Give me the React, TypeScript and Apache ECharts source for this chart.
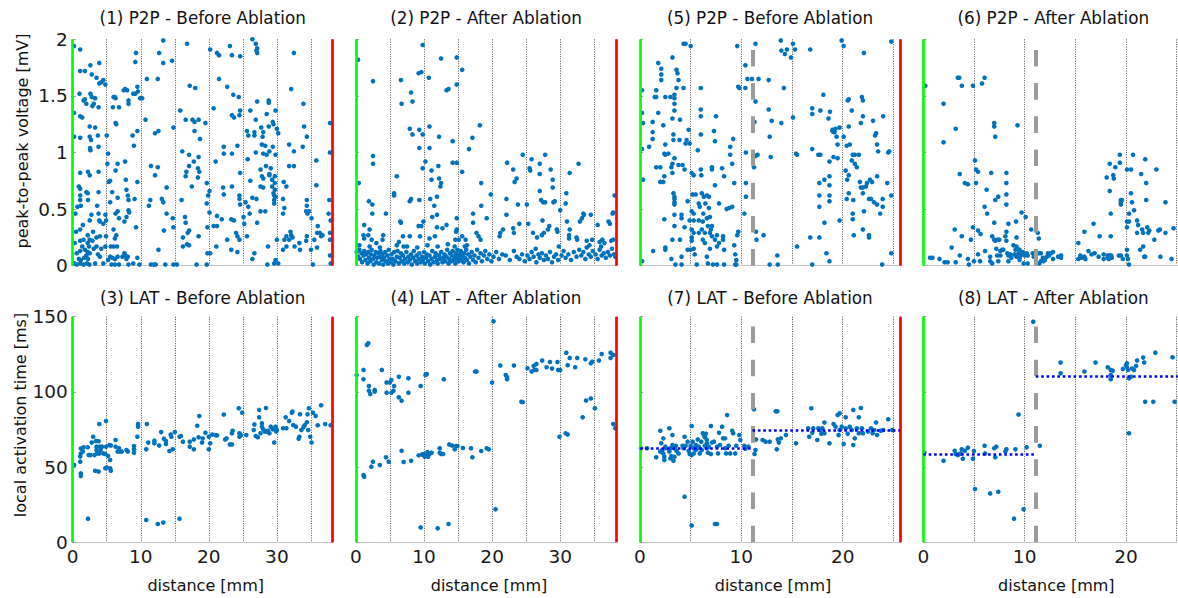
import React, { useEffect, useRef } from 'react';
import * as echarts from 'echarts';

// ---------- data (distance [mm], value) ----------
const p2pBefore1: number[][] = [
[0.2,1.94],[1.1,1.91],[1.1,1.72],[1.8,1.72],[2.6,1.77],[2.8,1.69],[3.5,1.66],[3.9,1.79],[3.9,1.61],[4.2,1.62],[4.5,1.64],[4.8,1.6],[1.0,1.52],[1.8,1.47],[1.6,1.46],[2.0,1.43],[2.6,1.52],[2.8,1.49],[3.3,1.48],[2.9,1.41],[3.1,1.43],[3.8,1.40],[1.1,1.32],[1.4,1.31],[2.5,1.23],[3.3,1.22],[2.5,1.14],[1.1,1.13],[2.7,1.11],[2.55,1.04],[2.6,1.02],[0.2,1.35],[3.7,1.15],[3.8,1.05],
[1.1,0.82],[2.25,0.83],[2.5,0.80],[3.8,0.83],[0.9,0.70],[1.1,0.68],[2.2,0.64],[2.0,0.65],[1.1,0.62],[1.1,0.58],[2.25,0.58],[3.8,0.65],[3.6,0.53],[1.2,0.53],[2.75,0.45],[2.5,0.40],[3.8,0.46],[4.0,0.39],[3.9,0.40],[4.8,0.45],[4.9,0.40],[1.1,0.32],[4.5,0.37],[1.6,0.23],[1.1,0.22],[2.2,0.27],[2.5,0.23],[2.9,0.22],[3.5,0.25],[4.0,0.26],[2.2,0.20],[2.4,0.17],[3.1,0.15],[3.5,0.17],[4.2,0.15],[1.8,0.14],[0.6,0.11],[1.1,0.13],[2.2,0.12],[2.5,0.11],[0.9,0.06],[1.2,0.05],[1.7,0.07],[2.25,0.06],[0.3,0.02],[0.6,0.01],[1.1,0.02],[1.6,0.01],[2.1,0.02],[2.45,0.01],[3.3,0.02],[4.0,0.08],[4.5,0.02],[4.8,0.17],[4.9,0.26],[0.2,1.14],[0.7,0.52],[0.5,0.30],[1.5,0.36],[3.0,0.30],[2.0,0.09],[3.7,0.10],[1.4,0.17],[0.4,0.46],[0.3,0.20],
[5.0,1.15],[5.2,0.99],[5.1,0.90],[5.3,0.74],[5.5,0.75],[6.0,1.49],[6.2,1.49],[6.3,1.48],[5.9,1.40],[6.8,1.40],[6.4,1.25],[6.3,1.26],[6.6,0.90],[6.3,0.84],[5.8,0.65],[6.6,0.60],[5.5,0.56],[6.6,0.48],[6.3,0.46],[6.8,0.42],[6.0,0.32],[6.4,0.27],[6.2,0.24],[5.6,0.17],[6.0,0.17],[6.5,0.17],[5.5,0.08],[5.8,0.07],[6.2,0.06],[6.6,0.08],[5.2,0.05],[5.7,0.01],[6.2,0.01],[6.8,0.01],[7.5,1.55],[8.0,1.55],[8.2,1.46],[8.2,1.43],[7.7,1.56],[7.7,0.92],[7.8,0.76],[7.9,0.67],[8.1,0.62],[8.2,0.58],[8.2,0.49],[8.3,0.47],[7.9,0.43],[7.6,0.39],[7.3,0.08],[7.7,0.09],[7.9,0.06],[8.1,0.08],[7.6,0.11],[8.2,0.01],[8.9,0.02],[9.3,1.88],[9.2,1.80],[9.5,1.58],[9.6,1.54],[8.9,1.52],[9.2,1.52],[9.9,1.48],[10.2,1.48],[8.8,1.15],[9.5,1.19],[9.0,1.06],[9.5,0.74],[9.1,0.59],[9.3,0.34],[9.5,0.07],[9.8,0.01],
[10.9,1.65],[12.5,1.65],[12.7,1.88],[13.3,1.99],[13.3,1.79],[14.6,1.81],[10.7,1.29],[12.6,1.19],[12.1,1.17],[14.8,1.22],[11.5,0.88],[12.5,0.87],[12.1,0.80],[13.8,0.69],[13.1,0.59],[11.4,0.58],[13.3,0.56],[11.2,0.53],[13.8,0.46],[14.7,0.42],[13.4,0.31],[14.8,0.34],[12.6,0.14],[11.5,0.01],[11.9,0.01],[12.2,0.01],[13.6,0.01],[14.8,0.01],
[16.8,1.96],[15.8,1.37],[17.2,1.59],[18.0,1.57],[16.6,1.29],[17.6,1.29],[17.9,1.27],[18.5,1.29],[17.9,1.19],[18.7,1.12],[16.1,1.01],[17.1,0.98],[18.5,0.96],[17.8,0.92],[17.1,0.88],[18.4,0.86],[16.7,0.83],[18.6,0.83],[16.6,0.79],[18.4,0.78],[17.5,0.70],[16.0,0.58],[19.7,0.73],[19.9,0.62],[19.7,0.55],[16.5,0.43],[16.6,0.38],[17.1,0.31],[16.9,0.29],[16.2,0.25],[16.8,0.19],[17.1,0.18],[16.2,0.17],[18.5,0.26],[19.8,0.34],[19.8,0.11],[18.2,0.01],[19.7,0.01],[19.5,1.26],[15.3,0.01],
[20.2,1.91],[21.2,1.88],[21.5,1.86],[23.1,1.94],[23.4,1.86],[24.6,1.85],[21.5,1.65],[22.7,1.58],[23.6,1.51],[24.4,1.49],[20.7,1.39],[24.6,1.37],[23.4,1.33],[23.7,1.31],[24.5,1.33],[24.2,1.06],[22.2,1.05],[22.2,0.99],[21.0,0.92],[23.4,0.99],[24.6,0.82],[23.4,0.70],[22.1,0.69],[22.2,0.63],[24.5,0.62],[24.5,0.59],[24.6,0.54],[21.2,0.44],[21.9,0.41],[23.3,0.41],[21.2,0.35],[23.7,0.40],[24.0,0.29],[24.2,0.26],[24.5,0.23],[22.7,0.23],[21.1,0.17],[23.3,0.14],[24.2,0.12],[20.2,0.11],[20.7,0.35],[20.1,0.66],[20.1,0.47],
[26.4,2.0],[26.9,1.96],[27.1,1.92],[27.1,1.88],[27.0,1.90],[26.1,1.37],[27.1,1.45],[26.9,1.29],[25.6,1.19],[25.8,1.15],[26.7,1.18],[26.7,1.15],[28.0,1.18],[28.8,1.23],[29.4,1.27],[29.5,1.25],[29.8,1.37],[28.8,1.46],[28.8,1.44],[28.5,1.34],[27.7,1.22],[27.9,1.14],[27.8,1.07],[28.3,1.06],[28.0,0.99],[28.9,1.01],[28.5,0.98],[25.7,0.94],[26.9,1.00],[29.4,1.05],[29.8,0.98],[27.6,0.85],[27.8,0.79],[28.0,0.77],[28.4,0.88],[29.1,0.86],[28.9,0.80],[29.3,0.76],[29.7,0.79],[29.7,0.73],[29.3,0.70],[26.1,0.75],[27.6,0.70],[28.0,0.69],[29.7,0.67],[29.6,0.62],[29.8,0.61],[29.6,0.58],[29.6,0.55],[29.5,0.64],[26.4,0.60],[27.0,0.59],[25.8,0.52],[26.0,0.46],[27.6,0.48],[28.3,0.48],[27.1,0.38],[25.2,0.37],[25.6,0.26],[28.7,0.17],[26.7,0.11],[26.4,0.06],[28.6,0.01],[29.6,0.02],[29.8,0.05],[25.4,0.56],[25.1,0.43],[28.9,0.81],
[32.5,1.88],[32.1,1.56],[33.9,1.43],[34.0,1.23],[34.4,1.14],[30.0,1.21],[30.2,1.17],[31.8,1.07],[32.5,1.01],[33.8,1.05],[31.8,0.88],[32.5,0.88],[31.0,0.74],[31.4,0.70],[30.9,0.59],[31.1,0.51],[30.9,0.46],[31.4,0.17],[30.9,0.14],[31.8,0.23],[32.3,0.25],[32.0,0.30],[31.1,0.23],[31.4,0.26],[32.1,0.27],[34.4,0.58],[34.4,0.53],[34.3,0.48],[34.5,0.46],[34.7,0.48],[34.4,0.26],[34.3,0.22],[33.3,0.20],[33.4,0.14],[32.6,0.17],[30.2,0.02],[30.0,0.23],
[35.8,0.93],[35.8,0.71],[35.1,0.42],[36.0,0.35],[36.3,0.29],[35.9,0.29],[35.5,0.23],[36.5,0.26],[35.9,0.16],[35.0,0.14],[35.3,0.01],[36.7,0.27],[37.8,1.26],[37.8,1.00],[37.9,0.40],[37.8,0.29],[37.8,0.23],[37.8,0.09],[37.9,0.02],[37.7,0.58],[37.6,0.46]
];

const p2pAfter2: number[][] = [
[0.3,1.82],[0.4,0.73],[2.5,1.63],[2.5,0.97],[2.5,0.90],[1.9,0.57],[2.4,0.54],[2.4,0.46],[1.2,0.36],[2.0,0.32],[1.1,0.27],[1.2,0.24],[1.8,0.27],[2.3,0.23],[3.0,0.20],[3.9,0.23],[4.0,0.27],[4.4,0.46],
[6.0,0.79],[5.6,0.64],[5.6,0.62],[6.6,1.64],[6.7,1.43],[6.6,0.38],[6.5,0.39],[6.9,0.26],[6.3,0.21],[7.0,0.17],[7.9,0.26],[7.9,0.57],[8.1,0.59],[8.1,1.53],[8.3,1.45],[7.9,1.21],[8.3,1.16],[9.3,1.20],[9.3,1.04],[9.3,0.58],[9.2,0.35],[9.6,0.35],[9.4,0.26],[9.2,1.70],[9.6,1.71],[9.8,1.95],[9.8,1.16],[9.8,0.86],[9.9,0.39],
[10.2,0.92],[10.7,1.66],[10.8,1.23],[10.8,1.04],[11.1,0.84],[11.1,0.76],[11.2,0.43],[10.9,0.59],[10.8,0.24],[11.5,0.53],[11.9,0.61],[11.9,0.45],[12.1,0.88],[12.2,0.77],[12.5,0.73],[12.4,0.70],[12.2,1.14],[12.5,1.83],[13.3,1.55],[13.6,1.56],[11.9,0.34],[11.6,0.26],[12.7,0.33],[13.3,0.36],[14.2,1.10],[14.8,0.91],[14.8,1.84],[14.8,1.60],[14.2,0.91],[14.8,0.42],[14.8,0.32],[14.6,0.23],[14.7,0.30],[15.1,0.23],
[15.6,1.73],[15.6,0.83],[16.6,1.03],[17.1,1.13],[17.2,0.46],[17.2,0.38],[18.2,1.24],[18.4,0.73],[18.4,0.53],[19.2,0.42],[19.8,0.63],[15.6,0.26],[16.1,0.23],[16.3,0.18],[17.7,0.29],[18.0,0.26],[18.3,0.23],
[21.1,0.26],[21.2,0.29],[21.6,0.32],[22.1,0.59],[22.2,0.91],[22.1,0.45],[23.1,0.85],[23.1,0.33],[23.2,0.29],[23.3,0.74],[23.6,0.77],[24.5,0.98],[24.0,0.37],[23.8,0.54],
[25.1,0.54],[25.3,0.37],[25.5,0.86],[25.6,0.84],[25.8,0.94],[26.0,0.29],[26.4,0.15],[26.6,0.25],[27.0,0.90],[27.0,0.81],[27.0,0.66],[27.2,0.58],[27.3,0.27],[27.4,0.40],[27.5,0.56],[27.6,0.29],[27.8,0.98],[27.8,0.56],[28.2,0.32],[28.4,0.35],[28.6,0.85],[28.9,0.76],[28.9,0.69],[29.2,0.57],[29.0,0.56],[29.5,0.32],[29.6,0.30],[29.8,0.17],[30.0,0.49],
[30.9,0.64],[30.8,0.55],[31.0,0.39],[31.4,0.82],[31.4,0.32],[31.3,0.27],[31.3,0.24],[32.4,0.25],[32.5,0.23],[32.7,0.90],[32.9,0.39],[33.2,0.42],[33.4,0.46],[33.5,0.45],[33.9,0.22],[34.3,0.18],[34.5,0.45],[34.7,0.23],
[35.5,0.36],[35.8,0.21],[36.0,0.17],[36.2,0.23],[36.5,0.20],[37.1,0.39],[37.3,0.37],[37.5,0.22],[37.8,0.23],[37.7,0.46],[37.8,0.47],[38.0,0.62],[38.1,0.08],
[0.1,0.12],[0.3,0.08],[0.5,0.14],[0.6,0.06],[0.8,0.11],[0.9,0.03],[1.1,0.09],[1.2,0.13],[1.4,0.05],[1.5,0.10],[1.7,0.02],[1.8,0.12],[1.9,0.07],[2.1,0.04],[2.2,0.10],[2.3,0.14],[2.5,0.06],[2.6,0.01],[2.7,0.09],[2.9,0.12],[3.0,0.03],[3.1,0.07],[3.3,0.11],[3.4,0.02],[3.5,0.08],[3.6,0.13],[3.8,0.05],[3.9,0.10],[4.0,0.01],[4.1,0.07],[4.3,0.12],[4.4,0.04],[4.6,0.09],[4.7,0.02],[4.8,0.14],[4.9,0.06],
[5.1,0.03],[5.2,0.10],[5.4,0.06],[5.5,0.01],[5.6,0.12],[5.8,0.04],[6.0,0.08],[6.1,0.13],[6.3,0.02],[6.4,0.07],[6.6,0.11],[6.7,0.04],[6.9,0.09],[7.1,0.02],[7.2,0.06],[7.4,0.12],[7.6,0.03],[7.7,0.08],[7.9,0.05],[8.1,0.10],[8.2,0.01],[8.4,0.07],[8.5,0.13],[8.7,0.04],[8.9,0.09],[9.0,0.02],[9.2,0.06],[9.3,0.11],[9.5,0.03],[9.7,0.08],[9.8,0.05],[10.0,0.12],
[10.1,0.02],[10.3,0.07],[10.4,0.10],[10.6,0.04],[10.8,0.09],[10.9,0.01],[11.1,0.06],[11.2,0.13],[11.4,0.03],[11.6,0.08],[11.7,0.11],[11.9,0.05],[12.0,0.02],[12.2,0.09],[12.3,0.06],[12.5,0.12],[12.7,0.03],[12.8,0.07],[13.0,0.10],[13.1,0.04],[13.3,0.08],[13.4,0.14],[13.6,0.02],[13.7,0.06],[13.8,0.11],[14.0,0.04],[14.1,0.09],[14.2,0.13],[14.3,0.05],[14.5,0.08],[14.6,0.02],[14.7,0.11],[14.8,0.06],[14.9,0.14],[15.0,0.09],
[15.1,0.04],[15.2,0.10],[15.3,0.07],[15.4,0.13],[15.5,0.05],[15.6,0.09],[15.8,0.03],[15.9,0.11],[16.0,0.07],[16.2,0.14],[16.3,0.05],[16.5,0.10],[16.6,0.02],[16.8,0.08],[17.0,0.12],[17.2,0.05],[17.4,0.09],[17.6,0.03],[17.8,0.14],[18.0,0.07],[18.3,0.11],[18.5,0.04],[18.8,0.09],[19.0,0.13],[19.3,0.06],[19.6,0.10],[19.9,0.04],
[20.2,0.08],[20.6,0.12],[21.0,0.06],[21.5,0.10],[22.0,0.09],[22.6,0.05],[23.2,0.13],[23.6,0.08],[24.0,0.06],[24.4,0.10],[24.8,0.04],
[25.2,0.09],[25.5,0.06],[25.8,0.12],[26.1,0.08],[26.5,0.03],[26.8,0.10],[27.0,0.07],[27.3,0.11],[27.6,0.05],[27.9,0.09],[28.2,0.06],[28.5,0.12],[28.8,0.03],[29.1,0.08],[29.4,0.10],[29.7,0.05],
[30.2,0.09],[30.5,0.13],[30.8,0.07],[31.2,0.10],[31.6,0.05],[32.0,0.12],[32.4,0.08],[32.8,0.14],[33.1,0.09],[33.4,0.12],[33.7,0.06],[33.9,0.16],[34.2,0.10],[34.5,0.08],[34.8,0.13],
[35.2,0.10],[35.5,0.06],[35.8,0.14],[36.1,0.09],[36.4,0.11],[36.7,0.07],[37.0,0.12],[37.3,0.09],[37.6,0.15],[37.9,0.10],
[0.5,0.18],[2.0,0.17],[3.5,0.16],[6.0,0.18],[7.5,0.17],[9.0,0.16],[10.5,0.18],[12.0,0.17],[13.5,0.19],[14.5,0.17],[16.0,0.17]
];

const p2pBefore5: number[][] = [
[0.2,1.55],[0.2,1.35],[0.3,1.26],[0.2,1.03],[0.3,0.76],[0.2,0.04],[0.9,1.05],[1.25,1.27],[1.25,1.18],[1.25,1.12],[1.3,0.13],[1.45,1.49],[1.6,1.49],[1.6,1.55],[1.8,1.79],[1.8,1.35],[1.6,0.87],[2.0,0.87],[2.0,0.74],[2.1,1.74],[2.1,1.69],[2.1,1.64],[2.3,0.74],[2.3,1.24],[2.5,1.49],[2.4,0.99],[2.5,1.07],[2.5,0.98],[2.4,0.79],[2.4,0.41],[2.5,0.16],[2.5,0.14],[2.8,0.99],[3.0,1.49],[3.2,1.84],[3.2,1.30],[3.4,1.51],[3.3,1.16],[3.3,1.11],[3.4,1.37],[3.4,1.48],[3.4,1.43],[3.1,0.87],[3.2,0.82],[3.2,0.90],[3.4,0.95],[3.3,0.64],[3.4,0.61],[3.4,0.59],[3.4,0.56],[3.4,0.54],[3.4,0.45],[3.4,0.35],[3.2,0.23],[3.1,0.06],[3.5,0.01],[3.6,1.73],[3.7,1.70],[3.8,1.64],[3.6,1.57],[3.8,0.89],[3.9,1.11],[3.95,1.29],[3.95,0.23],[4.1,0.45],[4.1,0.42],[4.1,0.01],[4.2,0.89],[4.3,1.57],[4.1,0.08],[4.4,0.34],[4.4,0.85],[4.5,1.08],[4.6,1.11],[4.7,0.57],[4.8,1.20],[4.9,1.08],[4.7,0.14],[4.9,0.40],[4.3,1.96],[4.5,1.96],[5.0,1.94],
[5.1,0.82],[5.1,0.48],[5.1,0.32],[5.1,0.25],[5.0,0.14],[5.1,0.22],[5.2,0.63],[5.3,0.46],[5.3,0.80],[5.3,0.40],[5.3,0.29],[5.3,0.15],[5.4,0.10],[5.5,0.63],[5.6,0.01],[5.7,1.02],[5.8,0.55],[5.8,0.40],[5.9,0.52],[5.8,0.29],[6.0,1.57],[6.0,1.38],[6.0,1.32],[6.0,1.16],[6.0,0.85],[6.05,0.80],[6.1,0.64],[6.1,0.32],[6.2,0.39],[6.2,0.23],[6.25,0.46],[6.3,0.61],[6.4,0.29],[6.4,0.20],[6.45,0.55],[6.6,0.62],[6.6,0.42],[6.6,0.08],[6.7,0.02],[6.7,0.35],[6.8,0.61],[6.8,0.51],[6.9,0.29],[6.9,0.15],[6.9,0.43],[7.0,0.32],[7.1,0.26],[7.1,0.87],[7.1,0.85],[7.1,0.35],[7.2,0.01],[7.3,1.19],[7.4,1.10],[7.5,1.32],[7.4,0.71],[7.4,0.23],[7.6,0.17],[7.6,0.01],[7.6,0.27],[7.8,0.55],[7.8,0.20],[8.1,0.86],[8.2,0.26],[8.2,0.23],[8.3,0.14],[8.3,0.79],[8.3,0.01],[8.55,0.50],[8.8,0.51],[8.9,1.05],[8.9,0.98],[9.1,0.90],[9.1,0.52],[9.2,1.12],[9.3,0.73],[9.3,0.18],[9.4,0.10],[9.4,0.01],[9.5,0.05],[9.6,1.94],[9.6,0.27],[9.7,0.30],[9.7,1.58],[9.8,1.57],[9.5,0.01],
[10.4,1.77],[10.3,0.46],[10.45,0.73],[10.45,0.61],[10.45,1.00],[10.4,1.57],[10.6,1.65],[11.05,1.65],[11.4,1.96],[11.4,1.45],[11.4,0.97],[11.25,0.87],[11.3,1.27],[11.6,0.98],[11.45,0.30],[11.5,0.23],[11.7,1.65],[12.2,0.27],[12.7,1.38],[12.8,1.14],[12.7,1.64],[12.9,0.96],[13.0,1.28],[12.8,0.01],[13.55,0.09],[13.6,0.01],[13.9,1.99],[13.95,1.26],[13.95,1.90],[14.3,1.87],[14.5,1.91],[14.2,1.57],[14.9,1.84],[15.5,0.17],
[15.1,1.31],[15.1,1.96],[15.3,1.91],[15.4,0.99],[15.5,0.98],[16.8,1.91],[17.0,1.39],[17.0,1.34],[17.0,1.03],[17.0,0.01],[16.8,0.25],[17.6,0.98],[17.7,0.73],[17.7,0.62],[17.7,0.52],[17.7,0.25],[17.8,1.37],[17.8,0.98],[18.1,1.51],[18.2,0.76],[18.2,0.38],[18.4,0.11],[18.6,1.30],[18.7,0.92],[18.7,0.79],[18.7,0.71],[18.75,1.36],[18.7,0.62],[18.7,0.57],[18.7,0.04],[19.0,1.19],[19.0,1.20],[19.1,1.18],[19.1,0.96],[19.2,1.18],[19.3,1.21],[19.4,1.14],[19.5,1.07],[19.5,0.95],[19.7,1.22],[19.7,0.40],[19.9,1.99],
[20.1,1.94],[20.1,1.14],[20.3,0.84],[20.4,1.06],[20.4,0.59],[20.45,0.76],[20.6,1.47],[20.5,1.46],[20.6,0.80],[20.6,0.64],[20.6,1.23],[20.7,1.07],[20.9,1.37],[20.9,0.93],[21.0,0.98],[21.0,0.46],[21.0,0.41],[21.05,0.58],[21.1,0.27],[21.2,0.98],[21.2,0.90],[21.4,0.87],[21.6,0.98],[21.7,0.74],[21.8,0.69],[21.8,1.26],[21.9,1.49],[22.0,1.46],[22.0,1.32],[22.0,0.69],[22.0,0.64],[22.0,0.32],[22.1,1.88],[22.1,0.48],[22.3,0.70],[22.4,0.73],[22.6,0.59],[22.6,0.27],[22.6,0.25],[22.7,0.76],[22.8,0.59],[22.9,0.74],[23.0,1.28],[23.1,0.56],[23.2,1.15],[23.3,1.17],[23.4,1.07],[23.4,0.79],[23.4,0.54],[23.5,1.01],[23.7,0.46],[23.9,0.01],[23.95,0.52],[23.95,0.59],[24.0,1.32],[24.4,0.73],[24.5,1.00],[24.6,1.01],[24.8,0.11],[24.8,0.62],[24.8,1.98]
];

const p2pAfter6: number[][] = [
[0.2,1.59],[0.66,0.07],[0.9,0.07],[1.6,0.06],[2.0,1.43],[2.0,1.09],[2.1,0.03],[2.4,0.03],[2.8,0.16],[3.1,0.32],[3.2,0.03],[3.2,1.21],[3.4,1.66],[3.55,1.66],[3.6,0.81],[3.6,0.09],[3.8,1.59],[3.8,0.26],[4.1,0.73],[4.4,0.72],[4.4,0.06],[4.5,0.01],[4.7,0.23],[4.9,1.59],[4.9,0.34],[5.0,0.04],[5.1,0.93],[5.2,0.73],[5.2,0.85],[5.4,0.83],[5.4,0.31],[5.4,0.10],[5.6,0.04],[5.65,0.28],[5.8,1.61],[6.05,1.66],[6.05,0.52],[6.1,0.13],[6.25,0.67],[6.3,0.46],[6.6,0.08],[6.6,0.04],[6.7,0.82],[6.8,0.26],[6.8,0.02],[7.0,1.26],[7.0,1.23],[7.1,1.14],[7.0,0.23],[7.0,0.38],[7.1,0.58],[7.1,0.22],[7.2,0.15],[7.3,0.09],[7.3,0.23],[7.4,0.61],[7.5,0.23],[7.4,0.04],[7.6,0.13],[7.6,0.09],[7.8,0.14],[7.9,0.14],[8.1,0.26],[8.2,0.82],[8.2,0.73],[8.2,0.63],[8.2,0.54],[8.2,0.30],[8.2,0.22],[8.3,0.11],[8.4,0.09],[8.4,0.37],[8.4,0.04],[8.6,0.10],[8.7,0.07],[8.9,0.18],[9.0,0.10],[9.1,0.14],[9.15,0.39],[9.2,0.25],[9.2,0.17],[9.2,0.08],[9.3,1.24],[9.3,0.15],[9.4,0.11],[9.5,0.07],[9.5,0.14],[9.5,0.05],[9.6,0.09],[9.7,0.47],[9.8,0.12],[9.9,0.02],[10.0,0.09],[10.1,0.43],[10.2,0.11],[10.3,0.09],[10.3,0.02],[10.65,0.32],[10.8,0.11],[10.9,0.08],[11.3,0.29],[11.4,0.11],[11.4,0.24],[11.45,0.02],[11.6,0.11],[11.6,0.04],[11.8,0.07],[11.85,0.04],[12.0,0.05],[12.2,0.08],[12.3,0.11],[12.4,0.09],[12.6,0.11],[12.8,0.06],[12.8,0.12],[13.3,0.08],[13.6,0.09],[13.6,0.07],
[15.3,0.20],[15.3,0.06],[15.5,0.09],[15.6,0.07],[15.9,0.30],[15.9,0.08],[16.0,0.06],[16.3,0.13],[16.6,0.10],[16.8,0.37],[16.9,0.11],[17.3,0.08],[17.4,0.26],[17.8,0.06],[17.8,0.10],[18.1,0.78],[18.2,0.07],[18.2,0.09],[18.3,0.06],[18.4,0.90],[18.4,0.66],[18.4,0.09],[18.5,0.26],[18.5,0.46],[18.55,0.09],[18.6,0.07],[18.75,0.80],[18.8,0.77],[18.95,0.87],[19.3,0.09],[19.4,0.98],[19.4,0.91],[19.5,0.09],[19.5,0.58],[19.5,0.56],[19.5,0.54],[19.6,0.58],[19.7,0.06],
[20.1,0.85],[20.1,0.34],[20.1,0.39],[20.1,0.14],[20.1,0.09],[20.2,0.06],[20.3,0.01],[20.3,0.39],[20.3,0.46],[20.5,0.64],[20.5,0.85],[20.6,0.56],[20.7,0.98],[20.8,0.49],[21.1,0.29],[21.1,0.40],[21.2,0.36],[21.4,0.14],[21.5,0.81],[21.6,0.32],[21.7,0.29],[21.7,0.17],[21.8,0.08],[21.9,0.94],[21.9,0.08],[22.0,0.73],[22.0,0.58],[22.1,0.34],[22.2,0.29],[22.3,0.31],[22.8,0.23],[23.0,0.85],[23.2,0.31],[23.35,0.32],[23.4,0.08],[23.9,0.56],[23.9,0.29],[24.5,0.06],[24.7,0.33]
];

const latBefore3: number[][] = [
[0.2,51.4],[1.2,62.4],[1.2,59],[1.1,57],[1.1,53.6],[1.2,45.8],[1.2,44],[1.5,60.3],[1.6,63.2],[2.2,63.2],[2.25,15.7],[2.35,58],[2.6,58],[2.8,66.3],[3.0,70.2],[3.2,58],[3.3,47.6],[3.4,67.4],[3.5,63.6],[3.5,61.4],[3.6,59.1],[3.8,67.2],[3.8,47],[3.9,78.6],[3.9,59.1],[4.0,63.6],[4.1,61.4],[4.3,63.6],[4.5,59.1],[4.8,58.7],[4.8,49.2],[4.9,80.6],[4.9,63.6],[5.0,49.8],[5.2,57.4],[5.4,64.7],[5.5,54.7],[5.5,49.2],[5.6,47.6],[5.6,64.3],[6.3,68],[6.3,63.6],[6.6,60.3],[6.8,62.5],[6.9,60.3],[7.2,60.3],[7.9,61.4],[8.1,60.3],[9.0,64],[9.0,61.8],[9.0,59.6],[9.5,70.2],[9.6,76.9],[9.6,78.6],
[10.9,78.6],[10.8,14.8],[10.8,61.8],[11.1,66.3],[12.0,67.6],[12.0,65.8],[12.5,12.2],[12.7,64.3],[13.0,73.3],[13.3,13.1],[13.4,68.9],[13.7,67.4],[13.7,65.4],[14.2,60.7],[14.4,71.6],[14.5,70.2],[14.7,61.8],[15.0,73.3],[15.7,15.7],[15.7,70.2],[15.9,70.7],[16.2,66.9],[17.2,66.9],[17.2,63.6],[17.8,61.8],[17.8,68.4],[18.3,77.5],[18.6,84],[18.5,69.8],[19.0,66.3],[19.1,69.1],[19.5,72.8],
[20.0,61.8],[20.0,70.2],[20.2,65.8],[20.5,71.6],[21.0,71.1],[21.2,71.1],[22.2,84.9],[22.4,68.4],[22.6,69.1],[23.1,65.1],[23.4,65.1],[23.5,74.2],[23.4,72.5],[24.4,89.1],[24.5,72.5],[24.5,70.2],[24.7,71.1],[24.9,86.2],[25.5,71.3],[26.6,74.7],[26.7,78.4],[26.9,70.7],[27.2,69.8],[27.4,88],[27.4,83.1],[27.6,72.5],[27.8,76.9],[27.8,79.1],[28.0,75.1],[28.2,73.6],[28.4,89.3],[28.5,73.6],[28.7,74.2],[28.9,72.5],[29.1,76.9],[29.4,75.1],[29.6,66.3],[29.7,75.8],[29.8,76.9],[29.9,73.6],
[30.0,74.7],[30.9,75.8],[31.3,83.1],[31.4,75.8],[31.8,80.6],[32.2,86.2],[32.3,86.9],[32.4,78],[32.8,76.9],[33.2,68.9],[33.3,70.2],[33.4,85.1],[33.6,74.7],[33.9,76.5],[34.1,77.8],[34.4,79.8],[34.5,85.1],[34.6,74.7],[34.7,89.1],[34.9,70.2],[35.1,66.3],[35.3,86.2],[35.7,84],[36.0,77.8],[36.5,91.1],[37.1,78.6],[37.9,77.8]
];

const latAfter4: number[][] = [
[0.1,111.2],[1.1,114.6],[1.1,108.4],[1.1,44.7],[1.2,43.6],[1.6,131.2],[1.8,132.3],[1.9,103.9],[1.9,100.8],[2.1,98.6],[2.25,50.3],[2.5,53.6],[2.75,100.2],[2.75,101.3],[3.5,51.4],[3.8,114.6],[4.4,56.5],[4.5,99.5],[4.5,106.2],[4.8,53.6],[4.95,106.2],[5.2,107.9],[5.2,99.5],[5.5,100.8],[5.6,103.9],[6.3,110.1],[6.3,96.4],[6.7,94.1],[6.7,60.9],[7.0,53.4],[7.7,109],[7.7,99.5],[8.1,54.2],[9.2,57.8],[9.5,9.9],[9.5,103.9],[9.7,58.3],[9.9,58.7],
[10.1,56.9],[10.2,111.2],[10.3,58],[10.4,111.9],[10.5,60],[10.6,56.9],[10.8,58.7],[11.1,59.6],[12.0,9.3],[12.3,62.5],[12.3,59.6],[12.5,58.7],[12.8,58.7],[12.9,108.4],[13.6,12.2],[13.7,65.1],[14.1,64.3],[14.5,61.8],[14.7,64],[14.9,64],[15.7,62.7],[16.9,62.5],[17.1,56.5],[17.5,113.5],[17.7,113.5],[18.4,60.7],[19.2,62.5],[19.5,61.8],
[20.0,106.2],[20.2,146.9],[20.5,21.9],[21.2,117.5],[22.0,111.2],[22.2,109.7],[22.2,108.4],[23.2,117.5],[24.3,93.4],[24.5,93.2],[25.2,115.7],[25.8,113.5],[26.1,117.3],[26.2,114.6],[26.5,118.6],[26.5,114.6],[27.35,120.8],[28.0,116.4],[28.5,119.9],[28.8,115.5],[29.6,119.9],[29.7,114.6],[30.0,114.6],[29.9,70.2],[30.9,126.1],[30.8,72.5],[31.1,71.6],[31.1,117.7],[31.4,122.6],[32.2,116.4],[32.5,122.6],[33.3,83.1],[33.7,121.7],[33.8,94.3],[34.5,95.6],[34.5,119],[34.7,120.1],[35.1,89.1],[35.7,120.8],[36.1,125.2],[37.4,126.1],[37.4,122.6],[37.8,78.6],[37.8,124.6],[38.1,75.8]
];

const latBefore7: number[][] = [
[0.1,62.5],[0.7,62.5],[1.6,56.5],[2.0,60.3],[2.0,74.2],[2.1,65.8],[2.2,61.4],[2.3,69.1],[2.3,59.1],[2.4,56.9],[2.4,54.7],[2.5,63.6],[2.6,62.5],[2.9,75.8],[2.9,60.3],[3.0,55.8],[3.0,62.5],[3.1,57.4],[3.2,71.3],[3.2,64.7],[3.3,54.2],[3.4,62.5],[3.4,56.9],[3.55,64.2],[3.6,60.9],[3.8,59.1],[4.2,64.2],[4.3,62.5],[4.4,70.2],[4.4,30.3],[4.5,64.2],[4.7,66.9],[4.8,60.9],[4.9,58.7],[5.0,64.2],[5.1,11.2],[5.1,58],[5.1,77.3],[5.2,66.9],[5.3,59.1],[5.3,62.5],[5.5,61.4],[5.5,64.7],[5.7,68.4],[5.7,62.5],[5.8,63.6],[5.9,59.1],[6.05,66.9],[6.1,61.4],[6.2,72.5],[6.3,71.3],[6.4,64.2],[6.4,69.8],[6.5,72.1],[6.6,68],[6.6,65.8],[6.6,62.5],[6.7,59.6],[6.8,63.6],[7.0,77.3],[7.0,58.7],[7.1,66.3],[7.3,66.9],[7.4,12.2],[7.6,12.2],[7.6,63.6],[7.7,59.1],[7.8,72.8],[7.9,64.7],[8.1,76.9],[8.2,69.1],[8.4,62.5],[8.4,69.1],[8.5,59.1],[8.6,84.6],[8.75,64.2],[8.9,59.1],[9.1,74.2],[9.2,72.5],[9.4,59.1],[9.5,64.2],[9.8,71.3],[9.9,68],[10.3,64.2],[10.4,62.2],[10.7,63.6],
[11.25,88.4],[11.3,58.7],[11.4,61.4],[11.45,68.4],[12.1,68],[12.4,66.9],[12.8,66.9],[13.4,87.1],[13.55,87.1],[13.5,61.8],[13.6,68.4],[13.7,66.3],[13.9,69.1],[14.4,71.3],[15.4,65.8],[16.6,75.8],[16.7,70.2],[16.9,89.1],[17.0,72.8],[17.1,75.8],[17.5,68],[17.6,75.8],[17.8,74.7],[17.9,72.1],[18.0,75.8],[18.2,79.6],[18.2,72.5],[18.7,65.8],[19.1,78.6],[19.3,76.9],[19.5,84.6],[19.7,85.8],[19.6,71.3],[19.7,74.7],[19.9,76.9],[20.1,65.4],[20.3,75.8],[20.3,83.1],[20.5,72.1],[20.7,76.9],[20.9,74.7],[21.05,88],[21.05,64.7],[21.2,69.1],[21.4,75.8],[21.6,72.5],[21.6,83.1],[21.8,89.3],[21.9,75.8],[22.0,72.5],[22.5,73.6],[22.8,75.8],[22.96,72.5],[23.1,74.7],[23.3,79.6],[23.4,71.3],[23.75,74.2],[24.0,74.7],[24.5,81.8],[24.9,74.7]
];

const latAfter8: number[][] = [
[0.1,59.6],[2.0,54.2],[3.1,60.9],[3.2,58.7],[3.4,58],[3.55,58.7],[3.7,59.1],[3.8,61.8],[3.9,55.6],[4.1,60.9],[4.4,62.9],[4.9,55.6],[5.0,60.7],[5.1,35.4],[6.05,64.2],[6.1,59.1],[6.6,32.5],[7.0,62.5],[7.1,56.5],[7.2,63.6],[7.4,33.6],[8.1,60.3],[8.2,61.8],[8.95,15.7],[9.1,61.8],[9.4,84.9],[9.9,21.9],[10.2,63.2],[10.85,146.7],[11.5,64.2],
[13.55,119.5],[13.55,112.4],[15.9,113.5],[17.0,119.5],[18.2,116.4],[18.5,114.6],[18.5,111.2],[18.5,108.4],[18.7,114.1],[19.7,115.3],[20.0,117.8],[20.1,119],[20.1,116.4],[20.2,114.6],[20.3,72.5],[20.3,109],[20.5,110.1],[20.6,115.5],[20.8,114.6],[21.0,117.3],[21.1,120.8],[21.7,122.8],[21.8,119.5],[21.9,93.4],[22.7,93.4],[22.9,126.1],[24.6,123],[24.8,93.4]
];

// segment boundary (ablation line) and segment means for the LAT panels (7) and (8)
const ablationLine = 11.1;
const latMeans7 = [62.5, 74.2];
const latMeans8 = [58.7, 110.1];

// axis extents and labelled ticks
const xMaxLong = 38.2;
const xMaxShort = 25.66;
const xLabelsLong = [0, 10, 20, 30];
const xLabelsShort = [0, 10, 20];
const p2pTicks = [0, 0.5, 1, 1.5, 2];
const latTicks = [0, 50, 100, 150];

const titles = [
  '(1) P2P - Before Ablation', '(2) P2P - After Ablation', '(5) P2P - Before Ablation', '(6) P2P - After Ablation',
  '(3) LAT - Before Ablation', '(4) LAT - After Ablation', '(7) LAT - Before Ablation', '(8) LAT - After Ablation',
];

// ---------- layout ----------
const FONT = '"DejaVu Sans", "Liberation Sans", sans-serif';
const TXT = '#1a1a1a';
const DOT = '#0072BD';
const colLeft = [72.7, 356, 640, 923.3];
const rowTop = [39.3, 316.7];
const rowH = [226.4, 225.6];
const PW = 260;

type Panel = {
  data: number[][]; row: number; col: number; xMax: number; labels: number[];
  ablation: boolean; means?: number[];
};

const panels: Panel[] = [
  { data: p2pBefore1, row: 0, col: 0, xMax: xMaxLong, labels: xLabelsLong, ablation: false },
  { data: p2pAfter2, row: 0, col: 1, xMax: xMaxLong, labels: xLabelsLong, ablation: false },
  { data: p2pBefore5, row: 0, col: 2, xMax: xMaxShort, labels: xLabelsShort, ablation: true },
  { data: p2pAfter6, row: 0, col: 3, xMax: xMaxShort, labels: xLabelsShort, ablation: true },
  { data: latBefore3, row: 1, col: 0, xMax: xMaxLong, labels: xLabelsLong, ablation: false },
  { data: latAfter4, row: 1, col: 1, xMax: xMaxLong, labels: xLabelsLong, ablation: false },
  { data: latBefore7, row: 1, col: 2, xMax: xMaxShort, labels: xLabelsShort, ablation: true, means: latMeans7 },
  { data: latAfter8, row: 1, col: 3, xMax: xMaxShort, labels: xLabelsShort, ablation: true, means: latMeans8 },
];

function buildOption() {
  const grid: any[] = [];
  const xAxis: any[] = [];
  const yAxis: any[] = [];
  const series: any[] = [];
  const graphic: any[] = [];

  panels.forEach((p, i) => {
    const yt = p.row === 0 ? p2pTicks : latTicks;
    grid.push({
      left: colLeft[p.col], top: rowTop[p.row], width: PW, height: rowH[p.row],
      containLabel: false, outerBoundsMode: 'none',
    });
    xAxis.push({
      gridIndex: i, type: 'value', min: 0, max: p.xMax, interval: 5,
      axisLine: { show: true, onZero: false, lineStyle: { color: '#c4c4c4', width: 1 } },
      axisTick: { show: false },
      splitLine: { show: true, lineStyle: { color: '#2a2a2a', width: 0.8, type: [1, 1.4] } },
      axisLabel: {
        show: p.row === 1, fontFamily: FONT, fontSize: 18.5, color: TXT, margin: 5,
        showMaxLabel: false,
        formatter: (v: number) => (p.labels.some((t) => Math.abs(t - v) < 1e-6) ? String(v) : ''),
      },
    });
    yAxis.push({
      gridIndex: i, type: 'value', min: yt[0], max: yt[yt.length - 1], interval: yt[1] - yt[0],
      axisLine: { show: true, lineStyle: { color: '#c4c4c4', width: 1 } },
      axisTick: { show: true, inside: true, length: 3, lineStyle: { color: '#9a9a9a' } },
      splitLine: { show: false },
      axisLabel: { show: p.col === 0, fontFamily: FONT, fontSize: 18.5, color: TXT, margin: 5 },
    });

    const lines: any[] = [
      { xAxis: 0, lineStyle: { color: '#00ff00', width: 2.7, type: 'solid' } },
      { xAxis: p.xMax, lineStyle: { color: '#ff0000', width: 2.7, type: 'solid' } },
    ];
    if (p.ablation) {
      lines.push({ xAxis: ablationLine, lineStyle: { color: '#9b9b9b', width: 4, type: [16.6, 16.6] } });
    }
    if (p.means) {
      const blue = { color: '#0000ff', width: 2.6, type: [2.6, 2.8] };
      lines.push([{ coord: [0, p.means[0]], lineStyle: blue }, { coord: [ablationLine, p.means[0]] }]);
      lines.push([{ coord: [ablationLine, p.means[1]], lineStyle: blue }, { coord: [p.xMax, p.means[1]] }]);
    }

    series.push({
      type: 'scatter', xAxisIndex: i, yAxisIndex: i, data: p.data,
      symbol: 'circle', symbolSize: 4.6, itemStyle: { color: DOT, opacity: 1 },
      silent: true, clip: true,
      markLine: {
        silent: true, symbol: ['none', 'none'], label: { show: false },
        emphasis: { disabled: true }, animation: false, data: lines,
      },
    });

    graphic.push({
      type: 'text', x: colLeft[p.col] + PW / 2, y: p.row === 0 ? 18 : 298,
      style: { text: titles[i], font: `16.8px ${FONT}`, fill: '#111', align: 'center', verticalAlign: 'middle' },
    });
    if (p.row === 1) {
      graphic.push({
        type: 'text', x: colLeft[p.col] + PW / 2 + 3, y: 585,
        style: { text: 'distance [mm]', font: `16px ${FONT}`, fill: '#111', align: 'center', verticalAlign: 'middle' },
      });
    }
  });

  graphic.push({
    type: 'text', x: 22, y: 141, rotation: Math.PI / 2,
    style: { text: 'peak-to-peak voltage [mV]', font: `16px ${FONT}`, fill: '#111', align: 'center', verticalAlign: 'middle' },
  });
  graphic.push({
    type: 'text', x: 20, y: 415, rotation: Math.PI / 2,
    style: { text: 'local activation time [ms]', font: `16px ${FONT}`, fill: '#111', align: 'center', verticalAlign: 'middle' },
  });

  return {
    animation: false,
    backgroundColor: '#ffffff',
    textStyle: { fontFamily: FONT },
    grid, xAxis, yAxis, series, graphic,
  };
}

export default function App() {
  const ref = useRef<HTMLDivElement>(null);
  useEffect(() => {
    if (!ref.current) return;
    const chart = echarts.init(ref.current, null, { renderer: 'svg' });
    chart.setOption(buildOption() as any);
    return () => chart.dispose();
  }, []);
  return (
    <div
      ref={ref}
      style={{ position: 'fixed', left: 0, top: 0, width: 1178, height: 598, background: '#fff' }}
    />
  );
}
